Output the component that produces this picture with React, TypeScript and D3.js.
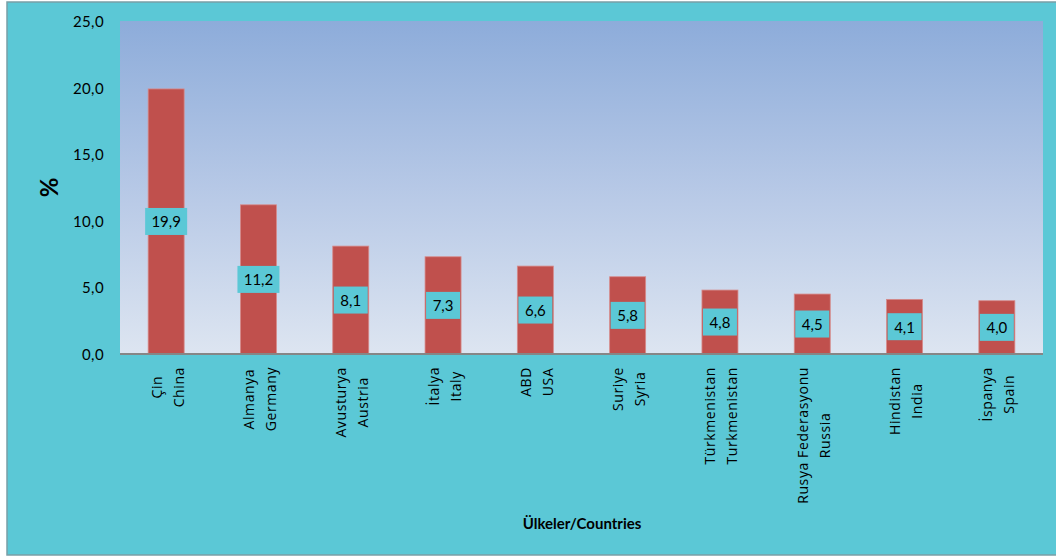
import React from "react";
import * as d3 from "d3";

const turkishNames = ["Çin", "Almanya", "Avusturya", "İtalya", "ABD", "Suriye", "Türkmenistan", "Rusya Federasyonu", "Hindistan", "İspanya"];
const englishNames = ["China", "Germany", "Austria", "Italy", "USA", "Syria", "Turkmenistan", "Russia", "India", "Spain"];
const values = [19.9, 11.2, 8.1, 7.3, 6.6, 5.8, 4.8, 4.5, 4.1, 4.0];
const yTicks = [0, 5, 10, 15, 20, 25];

const W = 1056;
const H = 556;
const plot = { left: 120, right: 1043, top: 21, bottom: 354 };
const FONT = "Lato, 'Open Sans', sans-serif";
const XFONT = "'Open Sans', sans-serif";
const XSIZE = 14;
const fmt = (v: number) => v.toFixed(1).replace(".", ",");
const LS = 0.6;

let ctx: CanvasRenderingContext2D | null = null;
function measure(s: string): number {
  if (!ctx && typeof document !== "undefined") {
    ctx = document.createElement("canvas").getContext("2d");
  }
  if (!ctx) return s.length * 8;
  ctx.font = `${XSIZE}px 'Open Sans'`;
  return ctx.measureText(s).width + LS * s.length;
}

export default function App() {
  const x = d3
    .scaleBand<number>()
    .domain(d3.range(values.length))
    .range([plot.left, plot.right])
    .paddingInner(0.61)
    .paddingOuter(0.305);
  const y = d3.scaleLinear().domain([0, 25]).range([plot.bottom, plot.top]);

  return (
    <svg width={W} height={H} style={{ position: "absolute", left: 0, top: 0 }} fontFamily={FONT}>
      <defs>
        <linearGradient id="plotGrad" x1="0" y1="0" x2="0" y2="1">
          <stop offset="0" stopColor="#8dacda" />
          <stop offset="0.5" stopColor="#b6c8e6" />
          <stop offset="1" stopColor="#dde5f1" />
        </linearGradient>
      </defs>
      <rect x={0} y={0} width={W} height={H} fill="#ffffff" />
      <rect x={7} y={2} width={W + 10} height={553} fill="#5bc8d6" stroke="#7a9fa6" strokeWidth={1.5} />
      <rect x={plot.left} y={plot.top} width={plot.right - plot.left} height={plot.bottom - plot.top} fill="url(#plotGrad)" />

      {yTicks.map((t) => (
        <text key={t} x={104} y={y(t)} textAnchor="end" dominantBaseline="central" fontSize={15} letterSpacing={0.4} fill="#000">
          {fmt(t)}
        </text>
      ))}

      <text
        transform={`translate(48,${(plot.top + plot.bottom) / 2}) rotate(-90)`}
        textAnchor="middle"
        dominantBaseline="central"
        fontSize={24}
        fontWeight="bold"
        fill="#000"
      >
        %
      </text>

      {values.map((v, i) => (
        <rect
          key={"b" + i}
          x={x(i)!}
          y={y(v)}
          width={x.bandwidth()}
          height={y(0) - y(v)}
          fill="#c0504d"
          stroke="#d68a8a"
          strokeWidth={0.8}
        />
      ))}

      <line x1={plot.left} x2={plot.right} y1={plot.bottom} y2={plot.bottom} stroke="#868686" strokeWidth={2} />

      {values.map((v, i) => {
        const cx = x(i)! + x.bandwidth() / 2;
        const cy = (y(v) + y(0)) / 2;
        const label = fmt(v);
        const w = label.length * 8 + 10;
        return (
          <g key={"l" + i}>
            <rect x={cx - w / 2} y={cy - 13.5} width={w} height={27} fill="#5bc8d6" />
            <text x={cx} y={cy} textAnchor="middle" dominantBaseline="central" fontSize={15} fill="#000">
              {label}
            </text>
          </g>
        );
      })}

      {values.map((_, i) => {
        const cx = x(i)! + x.bandwidth() / 2;
        const tr = turkishNames[i];
        const en = englishNames[i];
        const maxLen = Math.max(measure(tr), measure(en));
        const cy = 367 + maxLen / 2;
        return (
          <g key={"x" + i} fontSize={XSIZE} fontFamily={XFONT} fill="#000" letterSpacing={LS}>
            <text transform={`translate(${cx - 10},${cy}) rotate(-90)`} textAnchor="middle" dominantBaseline="central">
              {tr}
            </text>
            <text transform={`translate(${cx + 12},${cy}) rotate(-90)`} textAnchor="middle" dominantBaseline="central">
              {en}
            </text>
          </g>
        );
      })}

      <text x={582} y={523} textAnchor="middle" dominantBaseline="central" fontSize={15} fontWeight="bold" fill="#000">
        Ülkeler/Countries
      </text>
    </svg>
  );
}
